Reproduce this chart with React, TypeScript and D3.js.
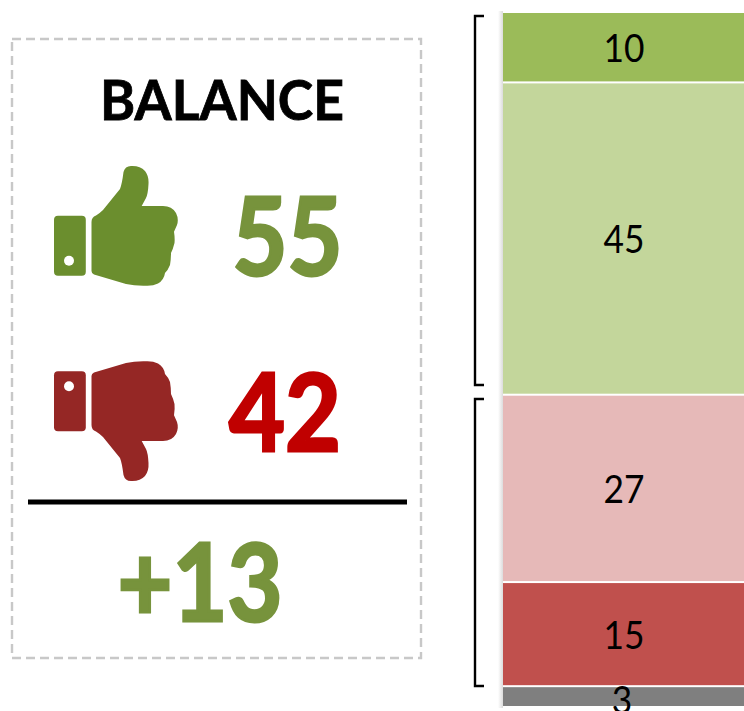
import React from "react";
import * as d3 from "d3";

const segments = ["veryPositive", "positive", "negative", "veryNegative", "unknown"];
const values = [10, 45, 27, 15, 3];
const colors = ["#9BBB59", "#C3D69B", "#E6B9B8", "#C0504D", "#7F7F7F"];
const title = "BALANCE";
const positiveTotal = "55";
const negativeTotal = "42";
const balance = "+13";

const thumb =
  "M91.5 222 Q91.5 217 96 215.5 Q100 213 103 210 L120 189 Q122 184 123.5 172 Q125 166 131 166 Q140 165.5 145 171 Q149 176 148.5 184 Q148 194 146 198 L141.7 206 L163 206 Q172 206 176 213 Q179 219 177 225 L174 231.7 Q175 238 174.5 243 Q173 249 171 253 Q171 259 170 265 Q168 270 165 273 Q164 280 158 283.5 Q153 286 146 285.7 Q135 286 126 284 L94 274.5 Q91.5 273.5 91.5 271 Z";

const stack = d3.stack<any>().keys(segments.map((_, i) => String(i)));
const rows = [Object.fromEntries(values.map((v, i) => [String(i), v]))];
const series = stack(rows);
const y = d3.scaleLinear().domain([0, d3.sum(values)]).range([13, 707]);

const font = "Lato, 'Open Sans', sans-serif";

function Hand({ color, flip }: { color: string; flip: boolean }) {
  return (
    <g transform={flip ? "translate(0,647) scale(1,-1)" : undefined} fill={color}>
      <rect x={54} y={215.7} width={31.8} height={60} rx={4} />
      <circle cx={69} cy={260.7} r={5} fill="#fff" />
      <path d={thumb} />
    </g>
  );
}

function Bracket({ top, bottom }: { top: number; bottom: number }) {
  const p = d3.path();
  p.moveTo(484, top);
  p.lineTo(475, top);
  p.lineTo(475, bottom);
  p.lineTo(484, bottom);
  return <path d={p.toString()} fill="none" stroke="#000" strokeWidth={2.4} />;
}

export default function App() {
  return (
    <svg
      width={744}
      height={711}
      viewBox="0 0 744 711"
      style={{ position: "absolute", left: 0, top: 0, background: "#fff" }}
      fontFamily={font}
    >
      <defs>
        <linearGradient id="shadow" x1="0" x2="1" y1="0" y2="0">
          <stop offset="0" stopColor="#fff" />
          <stop offset="1" stopColor="#dcdcdc" />
        </linearGradient>
      </defs>
      <rect x={12} y={39} width={409} height={619} fill="none" stroke="#c8c8c8" strokeWidth={2.4} strokeDasharray="9 5" />
      <text x={222} y={119.5} textAnchor="middle" fontSize={56} fontWeight={700} fill="#000" stroke="#000" strokeWidth={0.8} textLength={244} lengthAdjust="spacingAndGlyphs">{title}</text>
      <Hand color="#6B8E2E" flip={false} />
      <Hand color="#952725" flip={true} />
      <text x={287.5} y={275} textAnchor="middle" fontSize={108} fontWeight={700} fill="#77933C" stroke="#77933C" strokeWidth={3} textLength={110} lengthAdjust="spacingAndGlyphs">{positiveTotal}</text>
      <text x={285} y={451} textAnchor="middle" fontSize={108} fontWeight={700} fill="#C00000" stroke="#C00000" strokeWidth={3} textLength={112} lengthAdjust="spacingAndGlyphs">{negativeTotal}</text>
      <line x1={28} x2={407} y1={502} y2={502} stroke="#000" strokeWidth={5} />
      <text x={200} y={621} textAnchor="middle" fontSize={108} fontWeight={700} fill="#77933C" stroke="#77933C" strokeWidth={3} textLength={165} lengthAdjust="spacingAndGlyphs">{balance}</text>

      <Bracket top={16} bottom={385} />
      <Bracket top={399} bottom={686} />

      <rect x={498} y={11} width={5} height={697} fill="url(#shadow)" />
      {series.map((s, i) => {
        const [y0, y1] = s[0];
        return (
          <g key={segments[i]}>
            <rect x={503} y={y(y0) + (i ? 1 : 0)} width={241} height={y(y1) - y(y0) - (i ? 2 : 1)} fill={colors[i]} />
            <text
              x={i === 4 ? 622 : 624}
              y={(y(y0) + y(y1)) / 2 + (i === 4 ? 17 : 14.5)}
              textAnchor="middle"
              fontSize={38}
              fill="#000"
              textLength={String(values[i]).length * 20.5}
              lengthAdjust="spacingAndGlyphs"
            >
              {values[i]}
            </text>
          </g>
        );
      })}
    </svg>
  );
}
